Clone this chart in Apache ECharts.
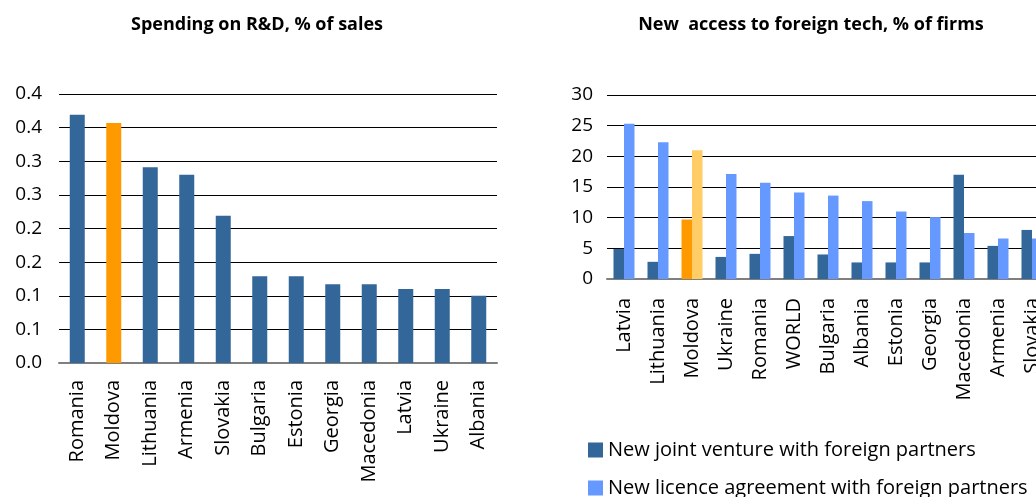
<!DOCTYPE html>
<html>
<head>
<meta charset="utf-8">
<script src="https://cdn.jsdelivr.net/npm/echarts@6/dist/echarts.min.js"></script>
<style>
  html, body { margin: 0; padding: 0; background: #fff; overflow: hidden; }
  /* chart is wider than the window: the right panel runs off the edge like the source */
  #main { width: 1070px; height: 497px; }
</style>
</head>
<body>
<div id="main"></div>
<script>
// left chart: spending on R&D
var rdCountries = ['Romania', 'Moldova', 'Lithuania', 'Armenia', 'Slovakia', 'Bulgaria', 'Estonia', 'Georgia', 'Macedonia', 'Latvia', 'Ukraine', 'Albania'];
var rdValues = [0.369, 0.357, 0.291, 0.280, 0.219, 0.129, 0.129, 0.117, 0.117, 0.110, 0.110, 0.100];
var rdTickLabels = ['0.0', '0.1', '0.1', '0.2', '0.2', '0.3', '0.3', '0.4', '0.4'];

// right chart: new access to foreign tech
var techCountries = ['Latvia', 'Lithuania', 'Moldova', 'Ukraine', 'Romania', 'WORLD', 'Bulgaria', 'Albania', 'Estonia', 'Georgia', 'Macedonia', 'Armenia', 'Slovakia'];
var jointVenture = [4.9, 2.8, 9.7, 3.6, 4.1, 7.0, 4.0, 2.7, 2.7, 2.7, 17.0, 5.4, 8.0];
var licence = [25.3, 22.3, 21.0, 17.1, 15.7, 14.1, 13.6, 12.7, 11.0, 10.1, 7.5, 6.6, 6.6];
var techTickLabels = ['0', '5', '10', '15', '20', '25', '30'];

var seriesNames = ['New joint venture with foreign partners', 'New licence agreement with foreign partners'];

var highlight = 'Moldova';
var FONT = 'Open Sans';

var colDark = '#336699';
var colLight = '#6699FF';
var colOrange = '#FF9900';
var colLightOrange = '#FFCC66';

function colored(values, cats, base, hi) {
    return values.map(function (v, i) {
        return {value: v, itemStyle: {color: cats[i] === highlight ? hi : base}};
    });
}

var chart = echarts.init(document.getElementById('main'), null, {renderer: 'canvas'});

var axisLabelStyle = {color: '#000', fontFamily: FONT};
var titleStyle = {fontFamily: FONT, fontSize: 18, fontWeight: 'bold', color: '#000'};
var legendBase = {
    orient: 'vertical',
    left: 583,
    itemWidth: 15,
    itemHeight: 15,
    icon: 'rect',
    textStyle: {fontFamily: FONT, fontSize: 20, color: '#000'}
};

var option = {
    animation: false,
    textStyle: {fontFamily: FONT},
    title: [
        {text: 'Spending on R&D, % of sales', left: 252, top: 11, textAlign: 'center', textStyle: titleStyle},
        {text: 'New  access to foreign tech, % of firms', left: 806, top: 11, textAlign: 'center', textStyle: titleStyle}
    ],
    legend: [
        Object.assign({data: [seriesNames[0]], top: 435}, legendBase),
        Object.assign({data: [seriesNames[1]], top: 473}, legendBase)
    ],
    grid: [
        {left: 59, top: 94, width: 438, height: 269},
        {left: 607, top: 95, width: 442, height: 184}
    ],
    xAxis: [
        {
            type: 'category', gridIndex: 0, data: rdCountries,
            axisTick: {show: false},
            axisLine: {lineStyle: {color: '#7f7f7f', width: 2}},
            axisLabel: Object.assign({rotate: 90, margin: 17, interval: 0, fontSize: 20}, axisLabelStyle)
        },
        {
            type: 'category', gridIndex: 1, data: techCountries,
            axisTick: {show: false},
            axisLine: {lineStyle: {color: '#7f7f7f', width: 2}},
            axisLabel: Object.assign({rotate: 90, margin: 19, interval: 0, fontSize: 20}, axisLabelStyle)
        }
    ],
    yAxis: [
        {
            type: 'value', gridIndex: 0, min: 0, max: 0.4, interval: 0.05,
            axisLine: {show: false}, axisTick: {show: false},
            splitLine: {lineStyle: {color: '#000', width: 1}},
            axisLabel: Object.assign({
                margin: 17, fontSize: 19,
                formatter: function (v) { return rdTickLabels[Math.round(v / 0.05)]; }
            }, axisLabelStyle)
        },
        {
            type: 'value', gridIndex: 1, min: 0, max: 30, interval: 5,
            axisLine: {show: false}, axisTick: {show: false},
            splitLine: {lineStyle: {color: '#000', width: 1}},
            axisLabel: Object.assign({
                margin: 14, fontSize: 19,
                formatter: function (v) { return techTickLabels[Math.round(v / 5)]; }
            }, axisLabelStyle)
        }
    ],
    series: [
        {
            name: 'R&D', type: 'bar', xAxisIndex: 0, yAxisIndex: 0,
            barWidth: 15,
            data: colored(rdValues, rdCountries, colDark, colOrange)
        },
        {
            name: seriesNames[0], type: 'bar', xAxisIndex: 1, yAxisIndex: 1,
            barWidth: 10.5, barGap: '0%',
            itemStyle: {color: colDark},
            data: colored(jointVenture, techCountries, colDark, colOrange)
        },
        {
            name: seriesNames[1], type: 'bar', xAxisIndex: 1, yAxisIndex: 1,
            barWidth: 10.5, barGap: '0%',
            itemStyle: {color: colLight},
            data: colored(licence, techCountries, colLight, colLightOrange)
        }
    ]
};

chart.setOption(option);
</script>
</body>
</html>
